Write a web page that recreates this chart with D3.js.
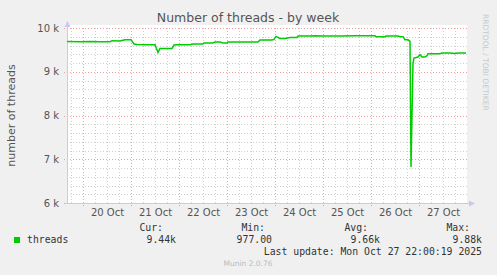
<!DOCTYPE html>
<html>
<head>
<meta charset="utf-8">
<script src="https://cdn.jsdelivr.net/npm/d3@7"></script>
<style>
  body { margin: 0; background: #f0f0f0; }
  svg { display: block; }
  .tick text { font-family: "DejaVu Sans", sans-serif; font-size: 10px; fill: #555; }
  .legend { font-family: "DejaVu Sans Mono", monospace; font-size: 9.8px; fill: #333; }
</style>
</head>
<body>
<svg id="chart" width="497" height="275"></svg>
<script>
// thread counts, half-hour samples (UTC)
const times = [
    "10-19 16:00", "10-19 22:30", "10-20 03:30", "10-20 08:30", "10-20 13:30", "10-20 14:30",
    "10-20 18:30", "10-20 21:00", "10-21 00:00", "10-21 01:30", "10-21 03:00", "10-21 07:00",
    "10-21 12:00", "10-21 13:30", "10-21 14:30", "10-21 20:30", "10-21 21:30", "10-21 23:30",
    "10-22 05:30", "10-22 07:00", "10-22 12:00", "10-22 12:30", "10-22 17:00", "10-22 18:00",
    "10-22 20:30", "10-22 22:00", "10-23 00:00", "10-23 00:30", "10-23 15:30", "10-23 16:30",
    "10-23 22:30", "10-23 23:30", "10-24 00:30", "10-24 02:30", "10-24 05:00", "10-24 07:30",
    "10-24 11:00", "10-24 11:30", "10-24 17:30", "10-24 20:00", "10-25 00:00", "10-25 08:30",
    "10-25 16:00", "10-26 02:00", "10-26 02:30", "10-26 07:00", "10-26 07:30", "10-26 13:30",
    "10-26 14:30", "10-26 16:00", "10-26 17:00", "10-26 18:30", "10-26 19:30", "10-26 20:00",
    "10-26 21:00", "10-26 21:30", "10-26 23:30", "10-27 00:30", "10-27 01:30", "10-27 03:00",
    "10-27 04:00", "10-27 04:30", "10-27 10:30", "10-27 11:30", "10-27 15:30", "10-27 18:00",
    "10-27 19:30", "10-27 23:30"
];
const threads = [
    9690, 9687, 9690, 9687, 9687, 9710,
    9705, 9733, 9733, 9634, 9625, 9618,
    9618, 9442, 9534, 9534, 9611, 9618,
    9618, 9634, 9634, 9657, 9657, 9680,
    9680, 9657, 9657, 9680, 9680, 9726,
    9726, 9740, 9808, 9762, 9762, 9785,
    9785, 9817, 9817, 9824, 9817, 9817,
    9824, 9824, 9801, 9801, 9817, 9817,
    9801, 9801, 9733, 9733, 9694, 6824,
    9200, 9314, 9337, 9390, 9337, 9337,
    9367, 9413, 9413, 9429, 9429, 9420,
    9429, 9429
];
const yTicks = [6000, 7000, 8000, 9000, 10000];
const statLabels = ["Cur:", "Min:", "Avg:", "Max:"];
const statValues = ["9.44k", "977.00", "9.66k", "9.88k"];
const seriesName = "threads";
const lastUpdate = "Last update: Mon Oct 27 22:00:19 2025";

const PLOT = {left: 67, right: 467, top: 28, bottom: 203};
const parseTime = d3.utcParse("%Y-%m-%d %H:%M");
const data = times.map((t, i) => ({t: parseTime("2025-" + t), v: threads[i]}));

const svg = d3.select("#chart");

const x = d3.scaleUtc()
    .domain([parseTime("2025-10-19 16:00"), parseTime("2025-10-28 00:00")])
    .range([PLOT.left, PLOT.right]);
const y = d3.scaleLinear()
    .domain([6000, 10000])
    .range([PLOT.bottom, PLOT.top]);

// plot background
svg.append("rect")
    .attr("x", PLOT.left).attr("y", PLOT.top - 3)
    .attr("width", PLOT.right - PLOT.left).attr("height", PLOT.bottom - PLOT.top + 3)
    .attr("fill", "#fff");

// grid
const grid = svg.append("g").attr("shape-rendering", "crispEdges");
grid.selectAll(".hmin")
    .data(d3.range(6200, 10000, 200).filter(v => v % 1000 !== 0))
    .join("line")
    .attr("x1", PLOT.left).attr("x2", PLOT.right)
    .attr("y1", d => Math.round(y(d)) + 0.5).attr("y2", d => Math.round(y(d)) + 0.5)
    .attr("stroke", "#cfcfcf").attr("stroke-dasharray", "1,2");
const sixHours = d3.utcHour.every(6).range(x.domain()[0], x.domain()[1]).filter(d => d.getUTCHours() !== 0);
grid.selectAll(".vmin")
    .data(sixHours)
    .join("line")
    .attr("x1", d => Math.round(x(d)) + 0.5).attr("x2", d => Math.round(x(d)) + 0.5)
    .attr("y1", PLOT.top).attr("y2", PLOT.bottom)
    .attr("stroke", "#cfcfcf").attr("stroke-dasharray", "1,2");
grid.selectAll(".hmaj")
    .data(yTicks)
    .join("line")
    .attr("x1", PLOT.left - 3).attr("x2", PLOT.right)
    .attr("y1", d => Math.round(y(d)) + 0.5).attr("y2", d => Math.round(y(d)) + 0.5)
    .attr("stroke", "#f0a0a0").attr("stroke-dasharray", "1,2");
const days = d3.utcDay.range(x.domain()[0], x.domain()[1]);
grid.selectAll(".vmaj")
    .data(days)
    .join("line")
    .attr("x1", d => Math.round(x(d)) + 0.5).attr("x2", d => Math.round(x(d)) + 0.5)
    .attr("y1", PLOT.top).attr("y2", PLOT.bottom + 3)
    .attr("stroke", "#f0a0a0").attr("stroke-dasharray", "1,2");

// axes lines with arrows
const axisColor = "#c8c8f4";
svg.append("line")
    .attr("x1", PLOT.left + 0.5).attr("x2", PLOT.left + 0.5)
    .attr("y1", PLOT.bottom + 1).attr("y2", PLOT.top - 4)
    .attr("stroke", axisColor);
svg.append("path")
    .attr("d", `M${PLOT.left - 2.5},${PLOT.top - 1}L${PLOT.left + 0.5},${PLOT.top - 7}L${PLOT.left + 3.5},${PLOT.top - 1}Z`)
    .attr("fill", axisColor);
svg.append("line")
    .attr("x1", PLOT.left - 2).attr("x2", PLOT.right + 3)
    .attr("y1", PLOT.bottom + 0.5).attr("y2", PLOT.bottom + 0.5)
    .attr("stroke", axisColor);
svg.append("path")
    .attr("d", `M${PLOT.right + 2},${PLOT.bottom - 2.5}L${PLOT.right + 8},${PLOT.bottom + 0.5}L${PLOT.right + 2},${PLOT.bottom + 3.5}Z`)
    .attr("fill", axisColor);

// tick labels
const yAxis = d3.axisLeft(y).tickValues(yTicks).tickSize(0).tickPadding(8)
    .tickFormat(d => `${d / 1000} k`);
svg.append("g")
    .attr("transform", `translate(${PLOT.left}, 0)`)
    .call(yAxis)
    .call(g => g.select(".domain").remove());

const noons = days.map(d => d3.utcHour.offset(d, 12)).filter(d => d < x.domain()[1]);
const xAxis = d3.axisBottom(x).tickValues(noons).tickSize(0).tickPadding(6)
    .tickFormat(d3.utcFormat("%-d %b"));
svg.append("g")
    .attr("transform", `translate(0, ${PLOT.bottom})`)
    .call(xAxis)
    .call(g => g.select(".domain").remove());

// series
const line = d3.line()
    .x(d => x(d.t))
    .y(d => y(d.v));
svg.append("path")
    .datum(data)
    .attr("d", line)
    .attr("fill", "none")
    .attr("stroke", "#00cc00")
    .attr("stroke-width", 1.5);

// titles
svg.append("text")
    .attr("x", 248).attr("y", 22)
    .attr("text-anchor", "middle")
    .attr("font-family", "DejaVu Sans, sans-serif").attr("font-size", 12.5)
    .attr("fill", "#555")
    .text("Number of threads - by week");
svg.append("text")
    .attr("transform", `translate(15, ${(PLOT.top + PLOT.bottom) / 2}) rotate(-90)`)
    .attr("text-anchor", "middle")
    .attr("font-family", "DejaVu Sans, sans-serif").attr("font-size", 11)
    .attr("fill", "#555")
    .text("number of threads");
svg.append("text")
    .attr("transform", "translate(483, 14) rotate(90)")
    .attr("font-family", "DejaVu Sans, sans-serif").attr("font-size", 7.5)
    .attr("fill", "#c8c8c8")
    .text("RRDTOOL / TOBI OETIKER");

// legend
const statX = [163, 265, 368, 470];
const valueX = [176, 272, 380, 482];
svg.append("rect")
    .attr("x", 14).attr("y", 237).attr("width", 6).attr("height", 6)
    .attr("fill", "#00cc00");
svg.append("text").attr("class", "legend")
    .attr("x", 27).attr("y", 243).text(seriesName);
svg.selectAll(".stat")
    .data(statLabels)
    .join("text")
    .attr("class", "legend")
    .attr("x", (d, i) => statX[i]).attr("y", 231)
    .attr("text-anchor", "end")
    .text(d => d);
svg.selectAll(".val")
    .data(statValues)
    .join("text")
    .attr("class", "legend")
    .attr("x", (d, i) => valueX[i]).attr("y", 243)
    .attr("text-anchor", "end")
    .text(d => d);
svg.append("text").attr("class", "legend")
    .attr("x", 482).attr("y", 255)
    .attr("text-anchor", "end")
    .text(lastUpdate);
svg.append("text")
    .attr("x", 248).attr("y", 266)
    .attr("text-anchor", "middle")
    .attr("font-family", "DejaVu Sans, sans-serif").attr("font-size", 7.5)
    .attr("fill", "#bbb")
    .text("Munin 2.0.76");
</script>
</body>
</html>
